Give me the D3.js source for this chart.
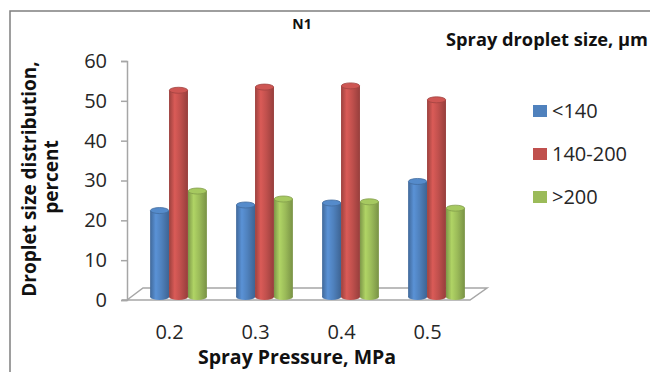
<!DOCTYPE html>
<html>
<head>
<meta charset="utf-8">
<script src="https://cdn.jsdelivr.net/npm/d3@7"></script>
<style>
  body { margin: 0; background: #fff; }
  svg { display: block; font-family: "Open Sans", sans-serif; }
</style>
</head>
<body>
<svg id="chart" width="650" height="372"></svg>
<script>
var width = 650, height = 372;

// values
var pressures = ["0.2", "0.3", "0.4", "0.5"];
var sizeClasses = ["<140", "140-200", ">200"];
var small = [21.7, 23.1, 23.6, 29.0];
var medium = [51.9, 52.7, 53.0, 49.5];
var large = [26.6, 24.6, 23.9, 22.3];
var yTicks = [0, 10, 20, 30, 40, 50, 60];
var colors = ["#4F81BD", "#C0504D", "#9BBB59"];

var svg = d3.select("#chart");

var x = d3.scaleBand().domain(pressures).range([135.5, 479.5]).paddingInner(0.34).paddingOuter(0.17);
var xSub = d3.scaleBand().domain(sizeClasses).range([0, x.bandwidth()]);
var y = d3.scaleLinear().domain([0, 60]).range([300, 61]);
var color = d3.scaleOrdinal().domain(sizeClasses).range(colors);

var series = [small, medium, large];
var rows = [];
pressures.forEach(function(p, i){
    sizeClasses.forEach(function(s, j){
        rows.push({pressure: p, size: s, value: series[j][i]});
    });
});

// outer frame
svg.append("rect")
    .attr("x", 10).attr("y", 11)
    .attr("width", 660).attr("height", 380)
    .attr("fill", "none").attr("stroke", "#7f7f7f").attr("stroke-width", 1.5);

// gradients for the cylinders
var defs = svg.append("defs");
colors.forEach(function(c, i){
    var base = d3.color(c);
    var g = defs.append("linearGradient").attr("id", "cyl" + i)
        .attr("x1", "0").attr("x2", "1").attr("y1", "0").attr("y2", "0");
    g.append("stop").attr("offset", "0").attr("stop-color", base.darker(0.6));
    g.append("stop").attr("offset", "0.3").attr("stop-color", base.brighter(0.35));
    g.append("stop").attr("offset", "0.6").attr("stop-color", base);
    g.append("stop").attr("offset", "1").attr("stop-color", base.darker(0.7));
});

// floor
var depthX = 17, depthY = 12;
var floorLeft = 127, floorRight = 470;
svg.append("path")
    .attr("d", "M" + (floorLeft - 5) + "," + y(0) + "L" + floorRight + "," + y(0) +
        "L" + (floorRight + depthX) + "," + (y(0) - depthY) +
        "L" + (floorLeft + depthX - 1) + "," + (y(0) - depthY) +
        "L" + floorLeft + "," + y(0))
    .attr("fill", "#fff").attr("stroke", "#a6a6a6").attr("stroke-width", 1.5);

// y axis
var yAxis = svg.append("g")
    .attr("transform", "translate(" + floorLeft + ",0)")
    .call(d3.axisLeft(y).tickValues(yTicks).tickSize(6).tickPadding(14));
yAxis.select(".domain").attr("stroke", "#a6a6a6").attr("stroke-width", 1.5);
yAxis.selectAll(".tick line").attr("stroke", "#a6a6a6").attr("stroke-width", 1.5);
yAxis.selectAll(".tick text").attr("font-size", 20).attr("fill", "#262626")
    .attr("font-family", "Open Sans");

// cylinders
var shiftY = 3, capRy = 3;
var bars = svg.append("g").selectAll("g.bar")
    .data(rows).enter().append("g").attr("class", "bar")
    .attr("transform", function(d){ return "translate(" + (x(d.pressure) + xSub(d.size)) + ",0)"; });

bars.append("rect")
    .attr("x", 0)
    .attr("y", function(d){ return y(d.value) - shiftY; })
    .attr("width", xSub.bandwidth())
    .attr("height", function(d){ return y(0) - y(d.value); })
    .attr("fill", function(d){ return "url(#cyl" + sizeClasses.indexOf(d.size) + ")"; });
bars.append("ellipse")
    .attr("cx", xSub.bandwidth() / 2)
    .attr("cy", y(0) - shiftY)
    .attr("rx", xSub.bandwidth() / 2).attr("ry", capRy)
    .attr("fill", function(d){ return "url(#cyl" + sizeClasses.indexOf(d.size) + ")"; });
bars.append("ellipse")
    .attr("cx", xSub.bandwidth() / 2)
    .attr("cy", function(d){ return y(d.value) - shiftY; })
    .attr("rx", xSub.bandwidth() / 2 - 0.3).attr("ry", capRy)
    .attr("fill", function(d){ return d3.color(color(d.size)).brighter(0.2); })
    .attr("stroke", function(d){ return d3.color(color(d.size)).darker(0.5); })
    .attr("stroke-width", 0.8);

// x labels
svg.append("g").selectAll("text")
    .data(pressures).enter().append("text")
    .attr("x", function(d){ return x(d) + x.bandwidth() / 2 - 9; })
    .attr("y", 339)
    .attr("text-anchor", "middle")
    .attr("font-size", 20).attr("fill", "#262626")
    .text(function(d){ return d; });

// titles
svg.append("text").attr("x", 302).attr("y", 29).attr("text-anchor", "middle")
    .attr("font-size", 14).attr("font-weight", "bold").attr("fill", "#111").text("N1");

svg.append("text").attr("x", 297).attr("y", 364).attr("text-anchor", "middle")
    .attr("font-size", 19.5).attr("font-weight", "bold").attr("fill", "#111")
    .text("Spray Pressure, MPa");

var yTitle = svg.append("g").attr("transform", "translate(0,179) rotate(-90)");
yTitle.append("text").attr("x", 0).attr("y", 36).attr("text-anchor", "middle")
    .attr("font-size", 19).attr("font-weight", "bold").attr("fill", "#111")
    .text("Droplet size distribution,");
yTitle.append("text").attr("x", 2).attr("y", 58).attr("text-anchor", "middle")
    .attr("font-size", 19).attr("font-weight", "bold").attr("fill", "#111")
    .text("percent");

// legend
svg.append("text").attr("x", 446).attr("y", 46)
    .attr("font-size", 18).attr("font-weight", "bold").attr("fill", "#111")
    .attr("textLength", 202).attr("lengthAdjust", "spacingAndGlyphs")
    .text("Spray droplet size, µm");

var legend = svg.append("g").selectAll("g")
    .data(sizeClasses).enter().append("g")
    .attr("transform", function(d, i){ return "translate(533," + (111 + i * 43) + ")"; });
legend.append("rect").attr("x", 0).attr("y", -6).attr("width", 14).attr("height", 12)
    .attr("fill", function(d){ return color(d); });
legend.append("text").attr("x", 19).attr("y", 7)
    .attr("font-size", 20).attr("fill", "#262626")
    .text(function(d){ return d; });
</script>
</body>
</html>
